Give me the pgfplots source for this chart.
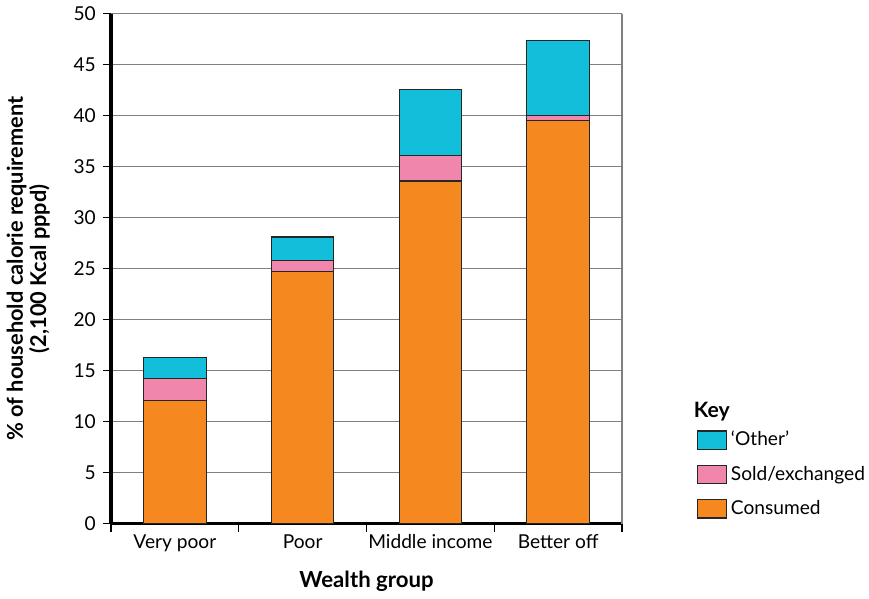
\documentclass[border=0pt]{standalone}
\usepackage{pgfplots}
\pgfplotsset{compat=1.18}
\usepackage{fontspec}
\setmainfont{Lato}
\definecolor{cons}{HTML}{F5891F}
\definecolor{sold}{HTML}{F086AC}
\definecolor{other}{HTML}{12BED9}
\begin{document}
\begin{tikzpicture}
\begin{axis}[
  width=253.5pt, height=253pt, scale only axis,
  ybar stacked, bar width=31pt,
  xmin=-0.5, xmax=3.5, ymin=0, ymax=50,
  xtick={-0.5,0.5,1.5,2.5,3.5},
  xticklabels={},
  extra x ticks={0,1,2,3},
  extra x tick labels={Very poor, Poor, Middle income, Better off},
  extra x tick style={major tick length=0pt, xticklabel style={yshift=-2pt}},
  ytick={0,5,...,50},
  tick align=outside, tick pos=left,
  major tick length=4pt,
  tick style={black, line width=0.6pt},
  axis lines*=left,
  axis line style={black, line width=1.5pt},
  ymajorgrids,
  major grid style={gray, line width=0.7pt},
  /pgf/number format/assume math mode=true,
  ticklabel style={font=\fontsize{9.5}{11}\selectfont},
  ylabel={\textbf{\% of household calorie requirement}\\\textbf{(2,100 Kcal pppd)}},
  ylabel style={align=center, font=\fontsize{10.8}{11.5}\selectfont, at={(axis description cs:-0.162,0.5)}, anchor=center},
  xlabel={\textbf{Wealth group}},
  xlabel style={font=\fontsize{11}{12}\selectfont, at={(axis description cs:0.5,-0.113)}, anchor=center},
  clip mode=individual,
  legend style={draw=none, fill=none, at={(axis description cs:1.145,0.19)}, anchor=north west,
    font=\fontsize{9.5}{11}\selectfont, row sep=4.5pt, inner sep=0pt,
    /tikz/every even column/.append style={column sep=7pt}},
  legend cell align=left,
  reverse legend,
  legend image code/.code={\draw[#1, draw=black!85, line width=0.6pt] (0pt,-4.5pt) rectangle (14.5pt,4.5pt);},
  after end axis/.code={\draw[gray, line width=0.7pt] (rel axis cs:1,0) -- (rel axis cs:1,1);},
]
\addplot[fill=cons, draw=black!85, line width=0.6pt] coordinates {(0,12.1) (1,24.7) (2,33.6) (3,39.5)};
\addlegendentry{Consumed}
\addplot[fill=sold, draw=black!85, line width=0.6pt] coordinates {(0,2.1) (1,1.1) (2,2.5) (3,0.5)};
\addlegendentry{Sold/exchanged}
\addplot[fill=other, draw=black!85, line width=0.6pt] coordinates {(0,2.1) (1,2.3) (2,6.5) (3,7.4)};
\addlegendentry{`Other'}
\node[anchor=south west, inner sep=0pt, font=\fontsize{10.5}{12}\selectfont\bfseries] at (axis description cs:1.14,0.201) {Key};
\end{axis}
\end{tikzpicture}
\end{document}
